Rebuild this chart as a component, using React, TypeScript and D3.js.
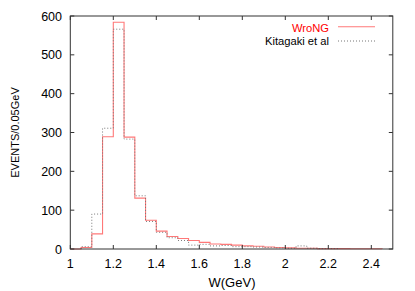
import React from "react";
import * as d3 from "d3";

const binWidth = 0.05;
const wrongStart = 1.0;
const wrongValues = [0, 4, 39, 289, 584, 288, 131, 74, 46, 32, 27, 22, 17, 13, 12, 10, 8, 7, 5, 4, 3, 2, 2, 1, 1, 1, 0.5, 0.5, 0.5];
const kitaStart = 1.05;
const kitaValues = [6, 90, 311, 566, 283, 137, 71, 43, 29, 22, 10, 12, 8, 9, 6, 6, 5, 4, 3, 2, 8, 2, 1, 1];
const xTicks = [1, 1.2, 1.4, 1.6, 1.8, 2, 2.2, 2.4];
const yTicks = [0, 100, 200, 300, 400, 500, 600];
const legendLabels = ["WroNG", "Kitagaki et al"];

const W = 415, H = 291;
const L = 70.3, R = 392.8, T = 16, B = 249;
const font = "'Liberation Sans', Arial, Helvetica, sans-serif";

function stepPath(x: d3.ScaleLinear<number, number>, y: d3.ScaleLinear<number, number>, start: number, vals: number[]) {
  const pts: [number, number][] = [];
  pts.push([x(start), y(0)]);
  vals.forEach((v, i) => {
    const x0 = start + i * binWidth;
    const x1 = x0 + binWidth;
    pts.push([x(x0), y(v)]);
    pts.push([x(x1), y(v)]);
  });
  const end = start + vals.length * binWidth;
  pts.push([x(end), y(0)]);
  return d3.line()(pts) || "";
}

export default function App() {
  const x = d3.scaleLinear().domain([1, 2.5]).range([L, R]);
  const y = d3.scaleLinear().domain([0, 600]).range([B, T]);
  const tk = 4;
  return (
    <svg width={W} height={H} style={{ position: "absolute", left: 0, top: 0, background: "#fff" }} fontFamily={font}>
      <rect x={0} y={0} width={W} height={H} fill="#fff" />
      <path d={stepPath(x, y, wrongStart, wrongValues)} fill="none" stroke="#ff7878" strokeWidth={1.1} />
      <path d={stepPath(x, y, kitaStart, kitaValues)} fill="none" stroke="#777" strokeWidth={1} strokeDasharray="1,2" />
      {xTicks.map((t) => (
        <g key={"x" + t}>
          <line x1={x(t)} x2={x(t)} y1={B} y2={B - tk} stroke="#333" />
          <line x1={x(t)} x2={x(t)} y1={T} y2={T + tk} stroke="#333" />
          <text x={x(t)} y={267.5} fontSize={12.5} textAnchor="middle" fill="#000">{String(t)}</text>
        </g>
      ))}
      {yTicks.map((t) => (
        <g key={"y" + t}>
          <line x1={L} x2={L + tk} y1={y(t)} y2={y(t)} stroke="#333" />
          <line x1={R} x2={R - tk} y1={y(t)} y2={y(t)} stroke="#333" />
          <text x={62} y={y(t) + 4.5} fontSize={12.5} textAnchor="end" fill="#000">{String(t)}</text>
        </g>
      ))}
      <rect x={L} y={T} width={R - L} height={B - T} fill="none" stroke="#333" strokeWidth={1} />
      <text x={232} y={287} fontSize={13} textAnchor="middle" fill="#000">W(GeV)</text>
      <text transform={`translate(19,${(T + B) / 2}) rotate(-90)`} fontSize={11} textAnchor="middle" fill="#000">EVENTS/0.05GeV</text>
      <text x={329} y={31.7} fontSize={11.2} textAnchor="end" fill="#ff0000">{legendLabels[0]}</text>
      <line x1={338} x2={375} y1={26.7} y2={26.7} stroke="#ff7878" strokeWidth={1.1} />
      <text x={329} y={45.3} fontSize={11.2} textAnchor="end" fill="#000">{legendLabels[1]}</text>
      <line x1={338} x2={375} y1={41} y2={41} stroke="#777" strokeWidth={1} strokeDasharray="1,2" />
    </svg>
  );
}
